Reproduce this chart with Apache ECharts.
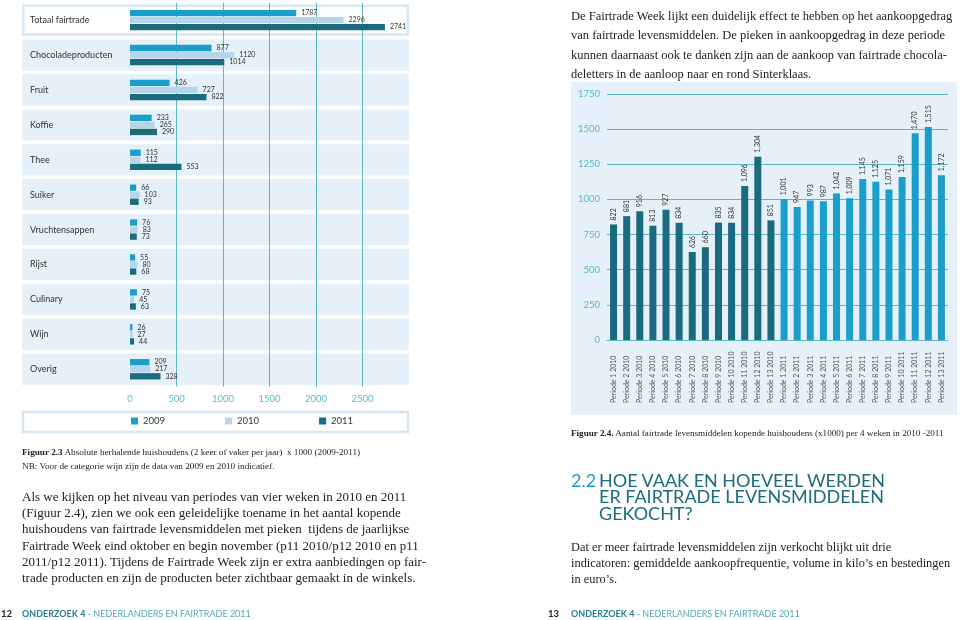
<!DOCTYPE html>
<html>
<head>
<meta charset="utf-8">
<script src="https://cdn.jsdelivr.net/npm/echarts@6.0.0/dist/echarts.min.js"></script>
<style>
html,body{margin:0;padding:0;background:#fff;}
#wrap{position:relative;width:960px;height:620px;overflow:hidden;}
#chart{position:absolute;left:0;top:0;width:960px;height:620px;}
.t{position:absolute;white-space:nowrap;font-family:"Liberation Serif",serif;color:#222;}
.s{position:absolute;white-space:nowrap;font-family:Lato,"Open Sans",sans-serif;}
</style>
</head>
<body>
<div id="wrap">
<div id="chart"></div>

<div class="t" style="left:571px;top:7px;font-size:12.5px;line-height:19.4px;">
De Fairtrade Week lijkt een duidelijk effect te hebben op het aankoopgedrag<br>
van fairtrade levensmiddelen. De pieken in aankoopgedrag in deze periode<br>
kunnen daarnaast ook te danken zijn aan de aankoop van fairtrade chocola-<br>
deletters in de aanloop naar en rond Sinterklaas.
</div>

<div class="t" style="left:571px;top:427px;font-size:9.1px;line-height:13px;">
<b>Figuur 2.4.</b> Aantal fairtrade levensmiddelen kopende huishoudens (x1000) per 4 weken in 2010 -2011
</div>

<div class="t" style="left:22px;top:446px;font-size:9.2px;line-height:13.5px;">
<b>Figuur 2.3</b> Absolute herhalende huishoudens (2 keer of vaker per jaar)&nbsp; x 1000 (2009-2011)<br>
NB: Voor de categorie wijn zijn de data van 2009 en 2010 indicatief.
</div>

<div class="t" style="left:22px;top:489px;font-size:13px;line-height:16.2px;">
Als we kijken op het niveau van periodes van vier weken in 2010 en 2011<br>
(Figuur 2.4), zien we ook een geleidelijke toename in het aantal kopende<br>
huishoudens van fairtrade levensmiddelen met pieken&nbsp; tijdens de jaarlijkse<br>
Fairtrade Week eind oktober en begin november (p11 2010/p12 2010 en p11<br>
2011/p12 2011). Tijdens de Fairtrade Week zijn er extra aanbiedingen op fair-<br>
trade producten en zijn de producten beter zichtbaar gemaakt in de winkels.
</div>

<div class="s" style="left:571px;top:472px;font-size:18px;line-height:16.4px;color:#1b6b7e;">
<span style="color:#1a9fcc;">2.2</span>
</div>
<div class="s" style="left:599px;top:472px;font-size:18px;line-height:16.4px;color:#1b6b7e;">
HOE VAAK EN HOEVEEL WERDEN<br>ER FAIRTRADE LEVENSMIDDELEN<br>GEKOCHT?
</div>

<div class="t" style="left:571px;top:539px;font-size:12.4px;line-height:16.2px;">
Dat er meer fairtrade levensmiddelen zijn verkocht blijkt uit drie<br>
indicatoren: gemiddelde aankoopfrequentie, volume in kilo’s en bestedingen<br>
in euro’s.
</div>

<div class="s" style="left:1px;top:608px;font-size:9.5px;line-height:12px;color:#222;font-weight:bold;">12</div>
<div class="s" style="left:22px;top:608px;font-size:9px;line-height:12px;color:#4fa7b5;"><b style="color:#2b7d8c;">ONDERZOEK 4</b> - NEDERLANDERS EN FAIRTRADE 2011</div>
<div class="s" style="left:548px;top:608px;font-size:9.5px;line-height:12px;color:#222;font-weight:bold;">13</div>
<div class="s" style="left:571px;top:608px;font-size:9px;line-height:12px;color:#4fa7b5;"><b style="color:#2b7d8c;">ONDERZOEK 4</b> - NEDERLANDERS EN FAIRTRADE 2011</div>
</div>

<script>
// ---- Figure 2.3 data ----
const categories = ['Totaal fairtrade','Chocoladeproducten','Fruit','Koffie','Thee','Suiker','Vruchtensappen','Rijst','Culinary','Wijn','Overig'];
const values2009 = [1787, 877, 426, 233, 115, 66, 76, 55, 75, 26, 209];
const values2010 = [2296, 1120, 727, 265, 112, 103, 83, 80, 45, 27, 217];
const values2011 = [2741, 1014, 822, 290, 553, 93, 73, 68, 63, 44, 328];
const leftTicks = [0, 500, 1000, 1500, 2000, 2500];
const legendNames = ['2009', '2010', '2011'];

// ---- Figure 2.4 data ----
const periods2010 = ['Periode 1 2010','Periode 2 2010','Periode 3 2010','Periode 4 2010','Periode 5 2010','Periode 6 2010','Periode 7 2010','Periode 8 2010','Periode 9 2010','Periode 10 2010','Periode 11 2010','Periode 12 2010','Periode 13 2010'];
const periods2011 = ['Periode 1 2011','Periode 2 2011','Periode 3 2011','Periode 4 2011','Periode 5 2011','Periode 6 2011','Periode 7 2011','Periode 8 2011','Periode 9 2011','Periode 10 2011','Periode 11 2011','Periode 12 2011','Periode 13 2011'];
const households2010 = [822, 881, 916, 813, 927, 834, 626, 660, 835, 834, 1096, 1304, 851];
const households2011 = [1001, 947, 993, 987, 1042, 1009, 1145, 1125, 1071, 1159, 1470, 1515, 1172];
const rightTicks = [0, 250, 500, 750, 1000, 1250, 1500, 1750];

const C2009 = '#1a9fcc', C2010 = '#b6d4ea', C2011 = '#1b6b7e';
const TEAL = '#5cb8c8';
const SANS = 'Lato, "Open Sans", sans-serif';

const chart = echarts.init(document.getElementById('chart'), null, {renderer: 'canvas'});

const barLabel = {show: true, position: 'right', distance: 5, fontSize: 7, color: '#333', fontFamily: SANS};

const vLabel = {
  show: true, position: 'top', rotate: 90, align: 'left', verticalAlign: 'middle',
  distance: 4, fontSize: 7, color: '#333', fontFamily: SANS,
  formatter: p => Number(p.value[1]).toLocaleString('en-US')
};

const option = {
  animation: false,
  backgroundColor: 'transparent',
  grid: [
    {left: 130, right: 551, top: 2.7, height: 384},
    {left: 607, right: 12, top: 94, bottom: 280}
  ],
  graphic: [
    {type: 'rect', z: -10, silent: true, shape: {x: 571, y: 82, width: 386, height: 333}, style: {fill: '#e5f0f8'}},
    {type: 'rect', z: -10, silent: true, shape: {x: 23, y: 412, width: 385, height: 20}, style: {fill: '#fff', stroke: '#d6e6f1', lineWidth: 2.5}}
  ],
  legend: {
    data: legendNames, left: 131, top: 416, padding: 0,
    itemWidth: 7, itemHeight: 7, itemGap: 60, icon: 'rect',
    textStyle: {fontSize: 9.5, color: '#2a3a44', fontFamily: SANS, width: 24}
  },
  xAxis: [
    {
      gridIndex: 0, type: 'value', min: 0, max: 3000, interval: 500, z: 1.5,
      axisLine: {show: false}, axisTick: {show: false},
      splitLine: {show: true, showMinLine: false, showMaxLine: false, lineStyle: {color: TEAL, width: 1}},
      axisLabel: {
        showMaxLabel: false, color: TEAL, fontSize: 9.5, fontFamily: SANS, margin: 7,
        formatter: v => leftTicks.indexOf(v) >= 0 ? String(v) : ''
      }
    },
    {
      gridIndex: 1, type: 'category', data: periods2010.concat(periods2011),
      axisLine: {show: true, lineStyle: {color: TEAL, width: 1}}, axisTick: {show: false},
      axisLabel: {interval: 0, rotate: 90, align: 'left', verticalAlign: 'middle', margin: 63, fontSize: 7, color: '#555', fontFamily: SANS}
    }
  ],
  yAxis: [
    {
      gridIndex: 0, type: 'category', data: categories, inverse: true, z: 3,
      axisLine: {show: false}, axisTick: {show: false}, splitLine: {show: false},
      axisLabel: {align: 'left', margin: 100, fontSize: 9, color: '#333', fontFamily: SANS}
    },
    {
      gridIndex: 1, type: 'value', min: 0, max: 1750, interval: 250,
      axisLine: {show: false}, axisTick: {show: false},
      splitLine: {show: true, lineStyle: {color: TEAL, width: 1}},
      axisLabel: {color: TEAL, fontSize: 9.5, fontFamily: SANS, margin: 7,
        formatter: v => rightTicks.indexOf(v) >= 0 ? String(v) : ''}
    }
  ],
  series: [
    {
      type: 'custom', xAxisIndex: 0, yAxisIndex: 0, z: 1, silent: true,
      data: categories.map((c, i) => [0, i]),
      renderItem: function (params, api) {
        const p = api.coord([0, api.value(1)]);
        const band = api.size([0, 1])[1];
        const h = band - 3.6;
        const x0 = 22, x1 = params.coordSys.x + params.coordSys.width;
        if (params.dataIndex === 0) {
          return {type: 'rect', shape: {x: x0 + 1.25, y: p[1] - h / 2 + 1.25, width: x1 - x0 - 2.5, height: h - 2.5},
                  style: {fill: '#fff', stroke: '#d8e7f1', lineWidth: 2.5}};
        }
        return {type: 'rect', shape: {x: x0, y: p[1] - h / 2, width: x1 - x0, height: h}, style: {fill: '#e5f0f8'}};
      }
    },
    {name: '2009', type: 'bar', xAxisIndex: 0, yAxisIndex: 0, data: values2009, barWidth: 6.3, barGap: '12%', z: 2,
     itemStyle: {color: C2009}, label: barLabel},
    {name: '2010', type: 'bar', xAxisIndex: 0, yAxisIndex: 0, data: values2010, barWidth: 6.3, barGap: '12%', z: 2,
     itemStyle: {color: C2010}, label: barLabel},
    {name: '2011', type: 'bar', xAxisIndex: 0, yAxisIndex: 0, data: values2011, barWidth: 6.3, barGap: '12%', z: 2,
     itemStyle: {color: C2011}, label: barLabel},
    {name: 'p2010', type: 'bar', xAxisIndex: 1, yAxisIndex: 1, barWidth: 7, barGap: '-100%',
     data: periods2010.map((p, i) => [p, households2010[i]]),
     itemStyle: {color: C2011}, label: vLabel},
    {name: 'p2011', type: 'bar', xAxisIndex: 1, yAxisIndex: 1, barWidth: 7, barGap: '-100%',
     data: periods2011.map((p, i) => [p, households2011[i]]),
     itemStyle: {color: C2009}, label: vLabel}
  ]
};
chart.setOption(option);
</script>
</body>
</html>
